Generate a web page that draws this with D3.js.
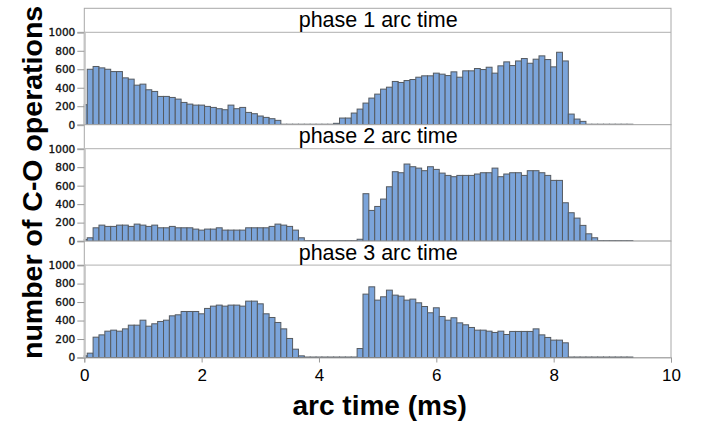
<!DOCTYPE html>
<html><head><meta charset="utf-8">
<script src="https://cdn.jsdelivr.net/npm/d3@7"></script>
<style>html,body{margin:0;padding:0;background:#fff;}svg{display:block;}</style>
</head><body>
<svg id="chart" width="709" height="428"></svg>
<script>
// bin centres: 0.0, 0.1, ... 9.3 ms (bin width 0.1 ms)
const binWidth = 0.1;
const panelTitles = ["phase 1 arc time", "phase 2 arc time", "phase 3 arc time"];
const phase1 = [216,600,630,615,600,575,575,507,493,428,439,378,360,306,306,295,277,241,223,212,212,198,187,173,162,212,173,187,133,119,94,79,65,47,
  5,5,5,5,5,5,5,5,5,
  15,72,72,126,169,234,288,331,385,406,468,457,478,489,514,529,529,558,547,532,572,514,583,583,608,597,622,558,637,680,640,690,716,665,709,745,705,626,784,690,115,61,36,
  5,5,5,5,5,5,5,5];
const phase2 = [18,36,144,173,159,159,173,173,159,184,173,159,173,144,144,159,144,144,144,130,119,130,130,144,119,119,119,119,144,144,144,144,159,184,173,159,119,36,
  5,5,5,5,5,5,5,5,5,
  20,513,332,375,455,588,751,740,834,805,790,762,805,776,736,711,697,711,711,711,726,740,740,790,697,726,740,740,711,762,762,740,711,657,657,415,307,249,170,79,36,
  5,5,5,5,5,5];
const phase3 = [18,47,220,245,285,296,285,310,350,350,404,339,365,390,404,451,462,498,498,498,473,531,556,567,556,567,567,556,610,610,581,473,433,379,310,206,90,18,
  5,5,5,5,5,5,5,5,5,
  97,686,765,621,657,729,675,664,621,632,592,552,484,538,444,404,430,375,354,325,296,296,285,271,285,249,282,282,282,282,310,245,217,188,188,159,
  5,5,5,5,5,5,5,5,5,5,5];
const series = [phase1, phase2, phase3];
const yTicks = [0, 200, 400, 600, 800, 1000];
const xTicks = [0, 2, 4, 6, 8, 10];

const svg = d3.select("#chart");
const left = 84.3, right = 671;
const top0 = 8.3, step = 116.4, strip = 24;
const x = d3.scaleLinear().domain([0, 10]).range([left, right]);

series.forEach((vals, i) => {
  const top = top0 + i * step;
  const bottom = top + step;
  const y = d3.scaleLinear().domain([0, 1000]).range([bottom, top + strip]);
  const g = svg.append("g");
  g.append("rect").attr("x", left).attr("y", top).attr("width", right - left).attr("height", step)
    .attr("fill", "#fff").attr("stroke", "#a8a8a8").attr("stroke-width", 1);
  g.append("line").attr("x1", left).attr("x2", right).attr("y1", y(1000)).attr("y2", y(1000))
    .attr("stroke", "#b0b0b0").attr("stroke-width", 1);
  g.append("text").attr("x", (left + right) / 2 + 0.5).attr("y", top + 18.6)
    .attr("text-anchor", "middle").attr("font-family", "Liberation Sans, Arial, sans-serif")
    .attr("font-size", 21.5).attr("fill", "#000").text(panelTitles[i]);
  const data = vals.map((v, k) => ({c: k * binWidth, v}));
  g.selectAll("rect.bar").data(data).enter().append("rect").attr("class", "bar")
    .attr("x", d => x(Math.max(0, d.c - binWidth / 2)))
    .attr("width", d => x(d.c + binWidth / 2) - x(Math.max(0, d.c - binWidth / 2)))
    .attr("y", d => y(d.v))
    .attr("height", d => y(0) - y(d.v))
    .attr("fill", "#7ba4da").attr("stroke", "#555a60").attr("stroke-width", 1);
  const ax = g.append("g").attr("transform", `translate(${left},0)`)
    .call(d3.axisLeft(y).tickValues(yTicks).tickSize(7).tickPadding(2).tickFormat(d3.format("d")));
  ax.select(".domain").attr("stroke", "#c4c4c4").attr("stroke-width", 2);
  ax.selectAll(".tick line").attr("stroke", "#999");
  ax.selectAll(".tick text").attr("font-family", "DejaVu Sans, sans-serif")
    .attr("font-size", 10.5).attr("fill", "#111").attr("stroke", "#111").attr("stroke-width", 0.35);
});

const bottomY = top0 + 3 * step;
const xa = svg.append("g").attr("transform", `translate(0,${bottomY})`)
  .call(d3.axisBottom(x).tickValues(xTicks).tickSize(5).tickPadding(6).tickFormat(d3.format("d")));
xa.select(".domain").attr("stroke", "#b0b0b0").attr("stroke-width", 1);
xa.selectAll(".tick line").attr("stroke", "#999");
xa.selectAll(".tick text").attr("font-family", "Liberation Sans, Arial, sans-serif")
  .attr("font-size", 17).attr("fill", "#000");

svg.append("text").attr("x", (left + right) / 2 + 2).attr("y", 415).attr("text-anchor", "middle")
  .attr("font-family", "Liberation Sans, Arial, sans-serif").attr("font-weight", "bold")
  .attr("font-size", 28).attr("fill", "#000").text("arc time (ms)");
svg.append("text").attr("transform", `translate(42,${(top0 + bottomY) / 2 - 0.5}) rotate(-90)`)
  .attr("text-anchor", "middle")
  .attr("font-family", "Liberation Sans, Arial, sans-serif").attr("font-weight", "bold")
  .attr("font-size", 28.5).attr("fill", "#000").text("number of C-O operations");
</script>
</body></html>
